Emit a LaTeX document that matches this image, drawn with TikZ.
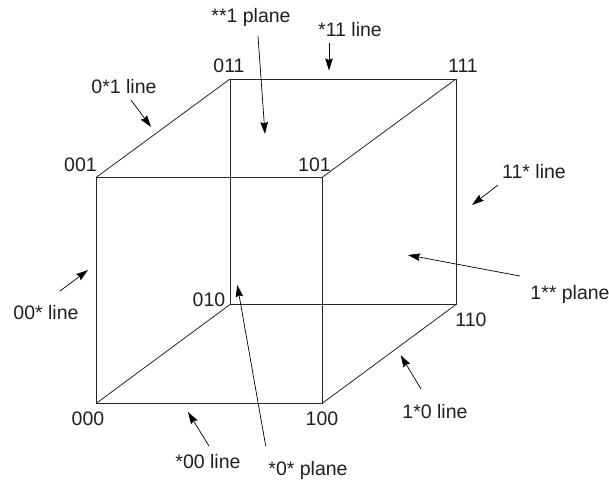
\documentclass[tikz,border=0pt]{standalone}
\usepackage{fontspec}
\setmainfont{Liberation Sans}
\usetikzlibrary{arrows.meta}
\tikzset{
  lab/.style={anchor=base,inner sep=0pt,font=\fontsize{19.5}{22}\selectfont,text=black!88},
  edge/.style={draw=black!85,line width=0.8pt,line join=miter},
  pointer/.style={draw=black,line width=0.7pt,-{Stealth[length=12pt,width=7.5pt,inset=1.5pt]}}
}
\begin{document}
\begin{tikzpicture}[x=1pt,y=-1pt]
\useasboundingbox (0,0) rectangle (609,483);
% vertices
\coordinate (v000) at (96,403.5);
\coordinate (v100) at (322,403.5);
\coordinate (v001) at (96,177.5);
\coordinate (v101) at (322,177.5);
\coordinate (v010) at (230,304.5);
\coordinate (v110) at (456,304.5);
\coordinate (v011) at (230,79);
\coordinate (v111) at (456,79);
% cube edges
\draw[edge] (v000) -- (v100) -- (v101) -- (v001) -- cycle;
\draw[edge] (v010) -- (v110) -- (v111) -- (v011) -- cycle;
\draw[edge] (v000) -- (v010);
\draw[edge] (v100) -- (v110);
\draw[edge] (v001) -- (v011);
\draw[edge] (v101) -- (v111);
% vertex labels
\node[lab] (l011) at (229,72) {011};
\node[lab] (l111) at (463,72) {111};
\node[lab] (l001) at (80.5,171) {001};
\node[lab] (l101) at (314.5,171) {101};
\node[lab] (l010) at (209,306) {010};
\node[lab] (l110) at (471,326) {110};
\node[lab] (l000) at (88,425) {000};
\node[lab] (l100) at (322,425) {100};
% pointer labels
\node[lab] (t1) at (251,22) {**1 plane};
\node[lab] (t2) at (124,93) {0*1 line};
\node[lab] (t3) at (350,36) {*11 line};
\node[lab] (t4) at (534,178) {11* line};
\node[lab] (t5) at (46,319) {00* line};
\node[lab] (t6) at (208,468) {*00 line};
\node[lab] (t7) at (308,475) {*0* plane};
\node[lab] (t8) at (435,418) {1*0 line};
\node[lab] (t9) at (570,299) {1** plane};
% pointer ends
\coordinate (a1) at (258,36);   \coordinate (b1) at (265,134);
\coordinate (a2) at (131,100);  \coordinate (b2) at (151,127);
\coordinate (a3) at (329,43);   \coordinate (b3) at (329,70.5);
\coordinate (a4) at (498,185);  \coordinate (b4) at (472,205);
\coordinate (a5) at (60,291);   \coordinate (b5) at (88,270);
\coordinate (a6) at (209,446);  \coordinate (b6) at (188,412);
\coordinate (a7) at (265.7,446);\coordinate (b7) at (237.3,285);
\coordinate (a8) at (421,389);  \coordinate (b8) at (400.7,355.3);
\coordinate (a9) at (520,276);  \coordinate (b9) at (408,255);
\foreach \i in {1,...,9} \draw[pointer] (a\i) -- (b\i);
\end{tikzpicture}
\end{document}
